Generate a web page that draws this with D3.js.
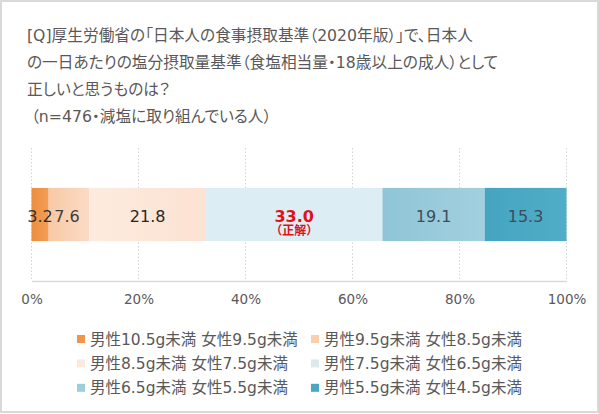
<!DOCTYPE html>
<html>
<head>
<meta charset="utf-8">
<script src="https://cdn.jsdelivr.net/npm/d3@7"></script>
<style>
  body { margin: 0; background: #fff; }
  svg { display: block; font-family: "DejaVu Sans", "Noto Sans CJK JP", sans-serif; }
  .title text { font-feature-settings: "palt"; }
</style>
</head>
<body>
<svg id="chart" width="599" height="414"></svg>
<script>
// ---- data ----
const titleLines = [
  '[Q]厚生労働省の「日本人の食事摂取基準（2020年版）」で、日本人',
  'の一日あたりの塩分摂取量基準（食塩相当量・18歳以上の成人）として',
  '正しいと思うものは？',
  '（n=476・減塩に取り組んでいる人）'
];
const categories = [
  '男性10.5g未満 女性9.5g未満',
  '男性9.5g未満 女性8.5g未満',
  '男性8.5g未満 女性7.5g未満',
  '男性7.5g未満 女性6.5g未満',
  '男性6.5g未満 女性5.5g未満',
  '男性5.5g未満 女性4.5g未満'
];
const values = [3.2, 7.6, 21.8, 33.0, 19.1, 15.3];
const correctIndex = 3;
const ticks = [0, 20, 40, 60, 80, 100];

// ---- styles ----
const gradStops = [
  ['#ee8e3e', '#f29e55'],
  ['#f8c9a6', '#fbdbc4'],
  ['#fdebdf', '#fce2d2'],
  ['#dcedf3', '#dcedf3'],
  ['#8fc5d7', '#a2d0df'],
  ['#45a5c1', '#50adc7']
];
const legendColors = ['#f0954a', '#f9cdae', '#fce9de', '#dfe8eb', '#9dcedc', '#4aa7c3'];
const labelColors = ['#303030', '#404040', '#262626', '#e3101c', '#3d4d5c', '#3d4d5c'];

const svg = d3.select('#chart');

// frame
svg.append('rect')
  .attr('x', 1).attr('y', 1).attr('width', 597).attr('height', 411)
  .attr('fill', '#fff').attr('stroke', '#d9d9d9').attr('stroke-width', 2);

// title
svg.append('g').attr('class', 'title').selectAll('text')
  .data(titleLines)
  .join('text')
  .attr('x', (d, i) => i === 3 ? 31 : 27)
  .attr('y', (d, i) => 35 + i * 27.2)
  .attr('dy', '0.36em')
  .attr('font-size', 15.7)
  .attr('fill', '#595959')
  .text(d => d);

// scales
const x = d3.scaleLinear().domain([0, 100]).range([31.5, 566.5]);
const y = d3.scaleBand().domain(['all']).range([148, 281]).paddingInner(0).paddingOuter(0.75);

// gridlines
svg.append('g').selectAll('line')
  .data(ticks)
  .join('line')
  .attr('x1', d => x(d)).attr('x2', d => x(d))
  .attr('y1', 148).attr('y2', 281)
  .attr('stroke', '#c8c8c8')
  .attr('stroke-width', 0.8)
  .attr('stroke-dasharray', '1.5,2');

// axis
const axis = svg.append('g')
  .attr('transform', 'translate(0,281)')
  .call(d3.axisBottom(x).tickValues(ticks).tickFormat(d => d + '%').tickSize(0).tickPadding(13));
axis.select('.domain').attr('stroke', '#d9d9d9').attr('stroke-width', 1.5);
axis.selectAll('text')
  .attr('font-family', '"DejaVu Sans", sans-serif')
  .attr('font-size', 13.5)
  .attr('fill', '#595959');

// stacked segments
const stack = [];
let acc = 0;
values.forEach((v, i) => { stack.push({ i, v, x0: acc, x1: acc + v }); acc += v; });

const defs = svg.append('defs');
gradStops.forEach((c, i) => {
  const g = defs.append('linearGradient').attr('id', 'grad' + i)
    .attr('x1', '0%').attr('x2', '100%').attr('y1', '0%').attr('y2', '0%');
  g.append('stop').attr('offset', '0%').attr('stop-color', c[0]);
  g.append('stop').attr('offset', '100%').attr('stop-color', c[1]);
});

svg.append('g').selectAll('rect')
  .data(stack)
  .join('rect')
  .attr('x', d => x(d.x0))
  .attr('width', d => x(d.x1) - x(d.x0))
  .attr('y', y('all'))
  .attr('height', y.bandwidth())
  .attr('fill', d => `url(#grad${d.i})`);

const cy = y('all') + y.bandwidth() / 2;
svg.append('g').selectAll('text')
  .data(stack)
  .join('text')
  .attr('x', d => x((d.x0 + d.x1) / 2) - (d.i === 1 ? 2 : 0))
  .attr('y', cy + 1.5)
  .attr('dy', '0.36em')
  .attr('text-anchor', 'middle')
  .attr('font-size', 16)
  .attr('font-weight', d => d.i === correctIndex ? 'bold' : 'normal')
  .attr('fill', d => labelColors[d.i])
  .text(d => d.v.toFixed(1));

const correct = stack[correctIndex];
svg.append('text')
  .attr('x', x((correct.x0 + correct.x1) / 2))
  .attr('y', cy + 16.5)
  .attr('dy', '0.36em')
  .attr('text-anchor', 'middle')
  .attr('font-size', 12)
  .attr('font-weight', 'bold')
  .attr('fill', labelColors[correctIndex])
  .text('（正解）');

// legend
const legend = svg.append('g').selectAll('g')
  .data(categories)
  .join('g')
  .attr('transform', (d, i) => `translate(${i % 2 ? 311 : 77},${339 + Math.floor(i / 2) * 24.4})`);
legend.append('rect')
  .attr('x', 0).attr('y', -4).attr('width', 8).attr('height', 8)
  .attr('fill', (d, i) => legendColors[i]);
legend.append('text')
  .attr('x', 13)
  .attr('dy', '0.36em')
  .attr('font-size', 15.5)
  .attr('fill', '#595959')
  .text(d => d);
</script>
</body>
</html>
